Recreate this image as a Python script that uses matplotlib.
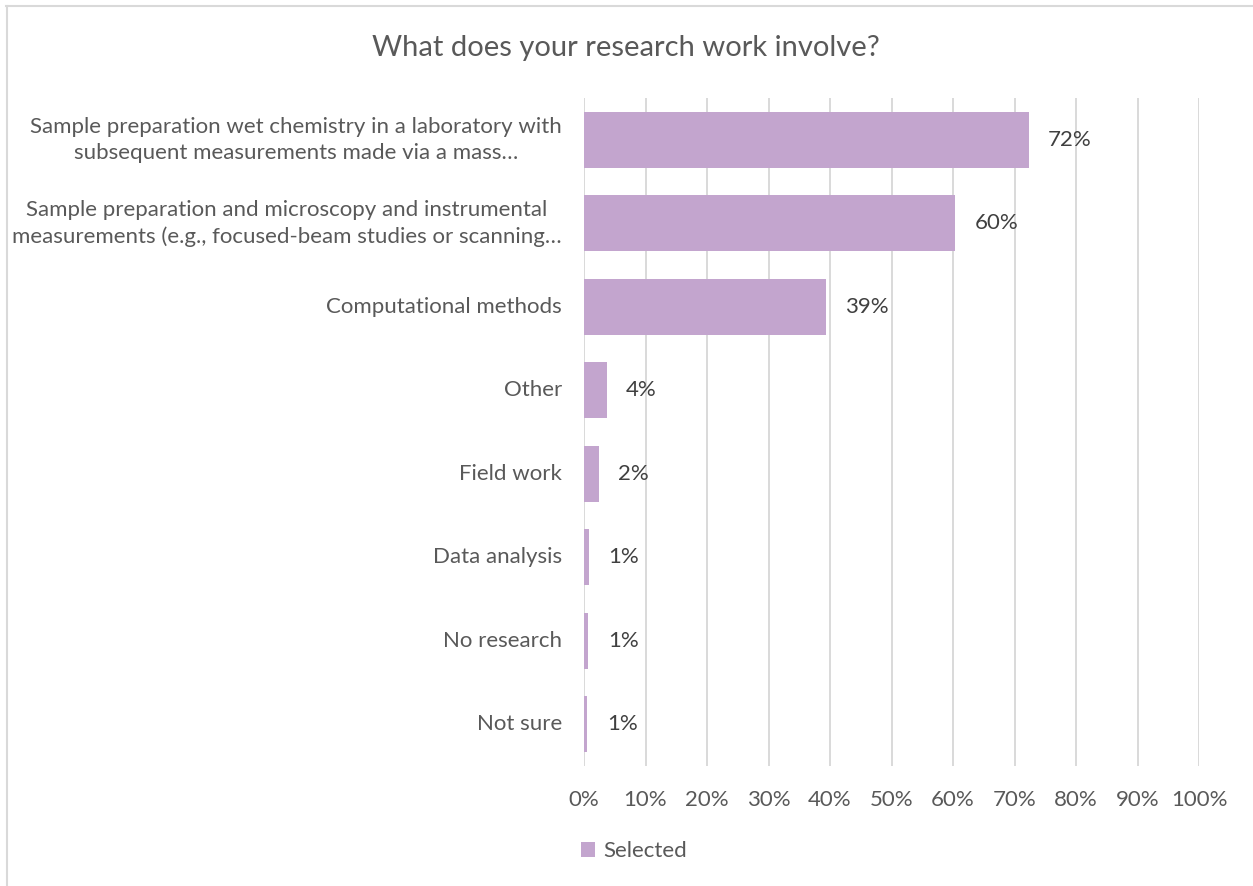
import matplotlib
matplotlib.use("Agg")
import matplotlib.pyplot as plt
from matplotlib.patches import Patch
from matplotlib.lines import Line2D
from matplotlib.ticker import MultipleLocator, FuncFormatter

plt.rcParams['font.family'] = ['Lato', 'DejaVu Sans']

# Survey responses (share of respondents)
categories = [
    "Sample preparation wet chemistry in a laboratory with\nsubsequent measurements made via a mass\u2026",
    "Sample preparation and microscopy and instrumental\nmeasurements (e.g., focused-beam studies or scanning\u2026",
    "Computational methods",
    "Other",
    "Field work",
    "Data analysis",
    "No research",
    "Not sure",
]
values = [0.723, 0.603, 0.393, 0.037, 0.024, 0.008, 0.007, 0.0055]
value_labels = ["72%", "60%", "39%", "4%", "2%", "1%", "1%", "1%"]
series_name = "Selected"

bar_color = "#C3A5CE"
grid_color = "#D9D9D9"
text_color = "#595959"
label_color = "#404040"

W, H = 1253, 886
fig = plt.figure(figsize=(W / 100, H / 100), dpi=100)
ax = fig.add_axes([584 / W, 1 - 766 / H, (1199 - 584) / W, (766 - 98) / H])

n = len(categories)
ypos = list(range(n))
ax.barh(ypos, values, height=0.667, color=bar_color, zorder=3)
ax.set_ylim(n - 0.5, -0.5)
ax.set_xlim(0, 1.0)

ax.set_yticks(ypos)
ax.set_yticklabels(categories, fontsize=16, color=text_color, ha='right',
                   va='center', multialignment='center', linespacing=1.38)
ax.xaxis.set_major_locator(MultipleLocator(0.1))
ax.xaxis.set_major_formatter(FuncFormatter(lambda v, p: f"{v * 100:.0f}%"))
ax.tick_params(axis='x', labelsize=16, labelcolor=text_color, length=0, pad=17)
ax.tick_params(axis='y', length=0, pad=16)

ax.grid(axis='x', color=grid_color, linewidth=1.4, zorder=0)
for s in ax.spines.values():
    s.set_visible(False)

for y, v, lab in zip(ypos, values, value_labels):
    ax.annotate(lab, (v, y), xytext=(14, 0), textcoords='offset points',
                ha='left', va='center', fontsize=16, color=label_color)

fig.text(626 / W, 1 - 48 / H, "What does your research work involve?",
         ha='center', va='center', fontsize=21, color=text_color)

handles = [Patch(facecolor=bar_color, edgecolor='none', label=series_name)]
fig.legend(handles=handles, loc='center', bbox_to_anchor=(634 / W, 1 - 851 / H),
           frameon=False, fontsize=16, labelcolor=text_color,
           handlelength=0.65, handleheight=0.65, handletextpad=0.35)

# chart border (top and left edges)
fig.add_artist(Line2D([6 / W, 1], [1 - 5.5 / H, 1 - 5.5 / H], transform=fig.transFigure,
                      color="#D9D9D9", linewidth=1.5))
fig.add_artist(Line2D([6.5 / W, 6.5 / W], [0, 1 - 5.5 / H], transform=fig.transFigure,
                      color="#D9D9D9", linewidth=1.5))

fig.savefig("out.png", dpi=100, facecolor="white")
